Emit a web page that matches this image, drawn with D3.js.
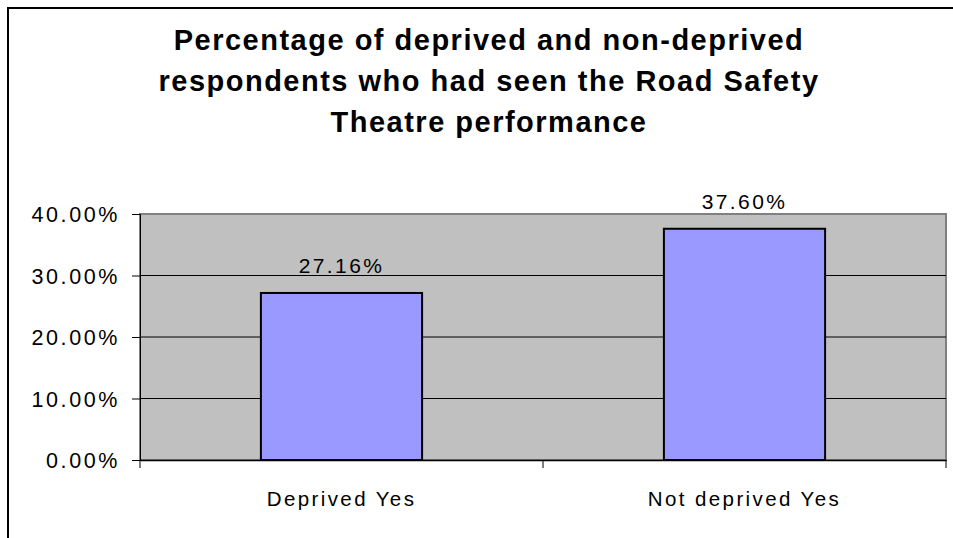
<!DOCTYPE html>
<html><head><meta charset="utf-8">
<script src="https://cdn.jsdelivr.net/npm/d3@7"></script>
<style>body{margin:0;background:#fff;} svg{display:block;font-family:"Liberation Sans",Arial,sans-serif;}</style>
</head><body>
<script>
const categories = ["Deprived Yes", "Not deprived Yes"];
const values = [0.2716, 0.3760];
const valueLabels = ["27.16%", "37.60%"];
const yTicks = [0, 0.1, 0.2, 0.3, 0.4];
const titleLines = ["Percentage of deprived and non-deprived", "respondents who had seen the Road Safety", "Theatre performance"];

const W = 953, H = 538;
const FS = 20.5, LS = 2.4;
const svg = d3.select("body").append("svg").attr("width", W).attr("height", H);

// outer frame
svg.append("rect").attr("x", 8).attr("y", 8).attr("width", W + 10).attr("height", H + 10)
  .attr("fill", "#fff").attr("stroke", "#000").attr("stroke-width", 2);

const m = {left: 140, top: 214, right: 946, bottom: 460};
const x = d3.scaleBand().domain(categories).range([m.left, m.right]).paddingInner(0.6).paddingOuter(0.3);
const xCat = d3.scaleBand().domain(categories).range([m.left, m.right]);
const y = d3.scaleLinear().domain([0, 0.4]).range([m.bottom, m.top]);

// title
const t = svg.append("text").attr("text-anchor", "middle").attr("font-weight", "bold")
  .attr("font-size", 29).attr("letter-spacing", 1.5).attr("fill", "#000");
titleLines.forEach((l, i) => t.append("tspan").attr("x", 489).attr("y", 50 + i * 41).text(l));

// plot area
svg.append("rect").attr("x", m.left).attr("y", m.top).attr("width", m.right - m.left).attr("height", m.bottom - m.top)
  .attr("fill", "#C0C0C0").attr("stroke", "#808080").attr("stroke-width", 2);

// gridlines
svg.append("g").selectAll("line").data(yTicks.filter(d => d > 0 && d < 0.4)).join("line")
  .attr("x1", m.left).attr("x2", m.right).attr("y1", d => y(d)).attr("y2", d => y(d))
  .attr("stroke", "#000").attr("stroke-width", 1.2);

// y axis
const yAxis = svg.append("g").attr("transform", `translate(${m.left},0)`)
  .call(d3.axisLeft(y).tickValues(yTicks).tickFormat(d3.format(".2%")).tickSize(8).tickPadding(12));
yAxis.select(".domain").attr("stroke", "#000").attr("stroke-width", 1);
yAxis.selectAll(".tick line").attr("stroke", "#000");
yAxis.selectAll("text").attr("font-size", 21.5).attr("letter-spacing", 2.6)
  .attr("font-family", "Liberation Sans, Arial, sans-serif").attr("fill", "#000").attr("dy", "0.36em");

// x axis
const xAxis = svg.append("g").attr("transform", `translate(0,${m.bottom})`)
  .call(d3.axisBottom(xCat).tickSize(0).tickPadding(31));
xAxis.select(".domain").attr("stroke", "#000").attr("stroke-width", 1.5);
xAxis.selectAll("text").attr("font-size", FS).attr("letter-spacing", LS)
  .attr("font-family", "Liberation Sans, Arial, sans-serif").attr("fill", "#000");
// category boundary ticks
const bounds = [m.left, m.left + xCat.step(), m.right];
svg.append("g").selectAll("line").data(bounds).join("line")
  .attr("x1", d => d).attr("x2", d => d).attr("y1", m.bottom).attr("y2", m.bottom + 8)
  .attr("stroke", "#000").attr("stroke-width", 1);

// bars
svg.append("g").selectAll("rect").data(values).join("rect")
  .attr("x", (d, i) => x(categories[i])).attr("width", x.bandwidth())
  .attr("y", d => y(d)).attr("height", d => m.bottom - y(d))
  .attr("fill", "#9999FF").attr("stroke", "#000").attr("stroke-width", 2);

// value labels
svg.append("g").selectAll("text").data(values).join("text")
  .attr("x", (d, i) => x(categories[i]) + x.bandwidth() / 2).attr("y", d => y(d) - 20)
  .attr("text-anchor", "middle").attr("font-size", 21).attr("letter-spacing", LS).attr("fill", "#000")
  .text((d, i) => valueLabels[i]);
</script>
</body></html>
